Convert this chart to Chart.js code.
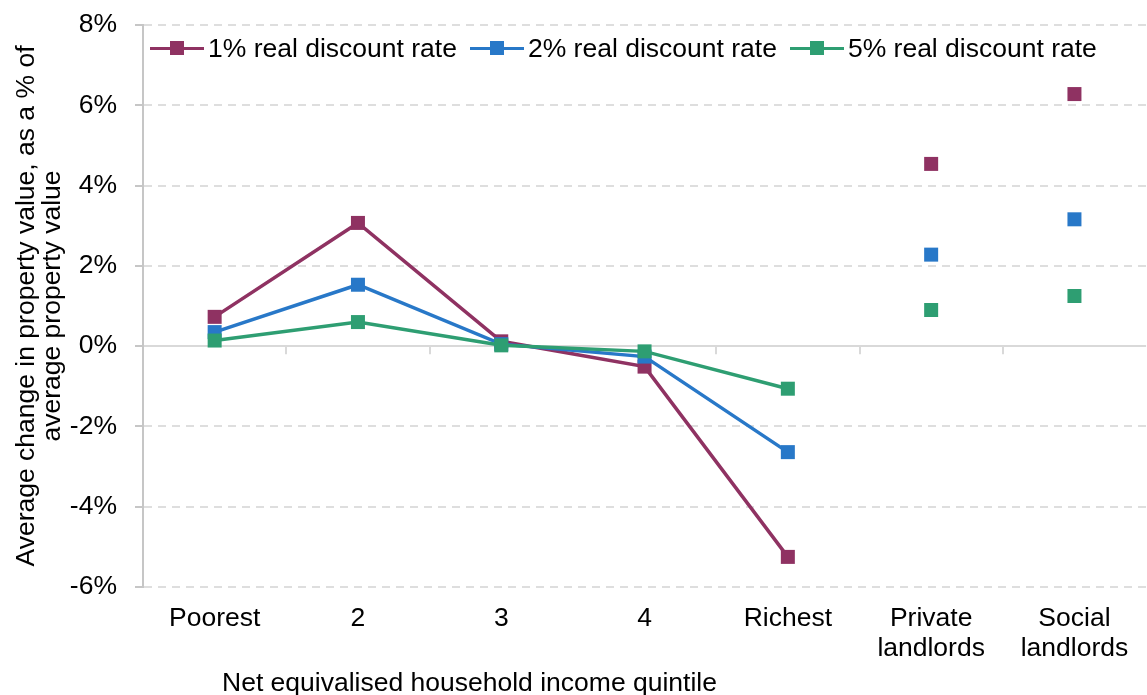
<!DOCTYPE html>
<html>
<head>
<meta charset="utf-8">
<script src="https://cdn.jsdelivr.net/npm/chart.js@4.4.1/dist/chart.umd.min.js"></script>
<style>
  html, body { margin: 0; padding: 0; background: #fff; overflow: hidden; }
  #wrap { position: relative; width: 1147px; height: 695px; overflow: hidden;
          font-family: 'Liberation Sans', Arial, sans-serif; font-size: 26.5px; color: #000; }
  #chart { position: absolute; left: 0; top: 0; }
  #xtitle { position: absolute; left: 222px; top: 667px; line-height: 30px; white-space: nowrap; }
  #legend { position: absolute; left: 150px; top: 33px; display: flex; align-items: center;
            line-height: 30px; white-space: nowrap; }
  .item { display: flex; align-items: center; margin-right: 13px; }
  .swatch { position: relative; width: 54px; height: 14px; margin-right: 4px; }
  .swatch .ln { position: absolute; left: 0; top: 5.5px; width: 54px; height: 3px; }
  .swatch .sq { position: absolute; left: 20px; top: 0; width: 14px; height: 14px; }
</style>
</head>
<body>
<div id="wrap">
  <canvas id="chart" width="1156" height="695"></canvas>
  <div id="legend"></div>
  <div id="xtitle">Net equivalised household income quintile</div>
</div>
<script>
// values (% of average property value)
const categories = ["Poorest", "2", "3", "4", "Richest", ["Private", "landlords"], ["Social", "landlords"]];
const rate1 = [0.73, 3.07, 0.12, -0.51, -5.25, 4.54, 6.28];
const rate2 = [0.35, 1.53, 0.05, -0.26, -2.64, 2.28, 3.16];
const rate5 = [0.14, 0.60, 0.02, -0.13, -1.06, 0.90, 1.25];
const seriesNames = ["1% real discount rate", "2% real discount rate", "5% real discount rate"];
const colors = ["#8f3262", "#2878c8", "#2e9e72"];
const yMin = -6, yMax = 8, yStep = 2;
const lastQuintile = 4; // lines stop at "Richest", landlords are loose points

Chart.defaults.font.family = "'Liberation Sans', Arial, sans-serif";
Chart.defaults.font.size = 26.5;
Chart.defaults.color = "#000";

// legend: line with a square marker, then the name
const legend = document.getElementById("legend");
seriesNames.forEach((name, i) => {
    const item = document.createElement("div");
    item.className = "item";
    item.innerHTML = '<span class="swatch"><span class="ln"></span><span class="sq"></span></span>';
    item.querySelector(".ln").style.background = colors[i];
    item.querySelector(".sq").style.background = colors[i];
    item.appendChild(document.createTextNode(name));
    legend.appendChild(item);
});

function lineDataset(label, data, color, order) {
    return {
        label: label,
        data: data,
        borderColor: color,
        backgroundColor: color,
        borderWidth: 3.5,
        pointStyle: "rect",
        pointRadius: 9.9,
        pointBorderWidth: 0,
        pointBackgroundColor: color,
        order: order,
        segment: {
            borderColor: ctx => ctx.p0DataIndex >= lastQuintile ? "rgba(0,0,0,0)" : color
        }
    };
}

// small tick marks along the 0% line between categories
const zeroTicks = {
    id: "zeroTicks",
    beforeDatasetsDraw(chart) {
        const ctx = chart.ctx;
        const x = chart.scales.x;
        const y0 = chart.scales.y.getPixelForValue(0);
        ctx.save();
        ctx.strokeStyle = "#d9d9d9";
        ctx.lineWidth = 2;
        ctx.beginPath();
        for (let i = 1; i < categories.length; i++) {
            const px = Math.round((x.getPixelForValue(i - 1) + x.getPixelForValue(i)) / 2);
            ctx.moveTo(px, y0);
            ctx.lineTo(px, y0 + 8);
        }
        ctx.stroke();
        ctx.restore();
    }
};

new Chart(document.getElementById("chart"), {
    type: "line",
    data: {
        labels: categories,
        datasets: [
            lineDataset(seriesNames[0], rate1, colors[0], 3),
            lineDataset(seriesNames[1], rate2, colors[1], 2),
            lineDataset(seriesNames[2], rate5, colors[2], 1)
        ]
    },
    options: {
        responsive: false,
        animation: false,
        layout: { padding: { left: 0, right: 1, top: 0, bottom: 0 } },
        plugins: {
            tooltip: { enabled: false },
            legend: { display: false }
        },
        scales: {
            x: {
                offset: true,
                grid: { display: false, drawTicks: false },
                border: { display: false },
                ticks: {
                    autoSkip: false,
                    maxRotation: 0,
                    padding: 16,
                    font: { lineHeight: 1.15 }
                },
                afterFit: scale => { scale.height = 108; }
            },
            y: {
                min: yMin,
                max: yMax,
                ticks: {
                    stepSize: yStep,
                    padding: 18,
                    font: { lineHeight: 0.53 },
                    callback: v => v + "%"
                },
                grid: {
                    color: ctx => ctx.tick && ctx.tick.value === 0 ? "#d9d9d9" : "#dedede",
                    lineWidth: 2,
                    drawTicks: true,
                    tickLength: 8,
                    tickColor: "#c6c6c6",
                    tickWidth: 2,
                    tickBorderDash: []
                },
                border: {
                    display: true,
                    color: "#c6c6c6",
                    width: 2,
                    dash: ctx => ctx.tick && ctx.tick.value === 0 ? [] : [8, 6]
                },
                title: {
                    display: true,
                    text: ["Average change in property value, as a % of", "average property value"],
                    font: { lineHeight: 1 },
                    padding: { top: 13, bottom: 0 }
                },
                afterFit: scale => { scale.width = 143; }
            }
        }
    },
    plugins: [zeroTicks]
});
</script>
</body>
</html>
